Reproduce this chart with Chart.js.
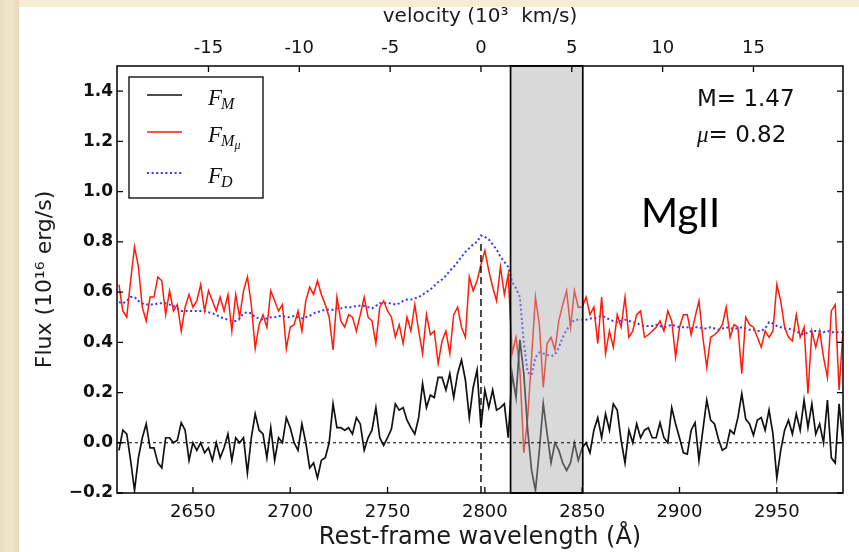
<!DOCTYPE html>
<html>
<head>
<meta charset="utf-8">
<script src="https://cdn.jsdelivr.net/npm/chart.js@4.4.1/dist/chart.umd.min.js"></script>
<style>
  html, body { margin: 0; padding: 0; background: #fff; }
  #wrap { width: 859px; height: 552px; position: relative; }
  canvas { display: block; }
</style>
</head>
<body>
<div id="wrap"><canvas id="spec" width="859" height="552"></canvas></div>
<script>
// Rest-frame wavelength grid (Angstrom)
const wavelength = [
  2612, 2614, 2616, 2618, 2620, 2622, 2624, 2626, 2628, 2630,
  2632, 2634, 2636, 2638, 2640, 2642, 2644, 2646, 2648, 2650,
  2652, 2654, 2656, 2658, 2660, 2662, 2664, 2666, 2668, 2670,
  2672, 2674, 2676, 2678, 2680, 2682, 2684, 2686, 2688, 2690,
  2692, 2694, 2696, 2698, 2700, 2702, 2704, 2706, 2708, 2710,
  2712, 2714, 2716, 2718, 2720, 2722, 2724, 2726, 2728, 2730,
  2732, 2734, 2736, 2738, 2740, 2742, 2744, 2746, 2748, 2750,
  2752, 2754, 2756, 2758, 2760, 2762, 2764, 2766, 2768, 2770,
  2772, 2774, 2776, 2778, 2780, 2782, 2784, 2786, 2788, 2790,
  2792, 2794, 2796, 2798, 2800, 2802, 2804, 2806, 2808, 2810,
  2812, 2814, 2816, 2818, 2820, 2822, 2824, 2826, 2828, 2830,
  2832, 2834, 2836, 2838, 2840, 2842, 2844, 2846, 2848, 2850,
  2852, 2854, 2856, 2858, 2860, 2862, 2864, 2866, 2868, 2870,
  2872, 2874, 2876, 2878, 2880, 2882, 2884, 2886, 2888, 2890,
  2892, 2894, 2896, 2898, 2900, 2902, 2904, 2906, 2908, 2910,
  2912, 2914, 2916, 2918, 2920, 2922, 2924, 2926, 2928, 2930,
  2932, 2934, 2936, 2938, 2940, 2942, 2944, 2946, 2948, 2950,
  2952, 2954, 2956, 2958, 2960, 2962, 2964, 2966, 2968, 2970,
  2972, 2974, 2976, 2978, 2980, 2982, 2984
];

// F_M : microlensed residual flux
const fluxM = [
  -0.03, 0.05, 0.035, -0.07, -0.19, -0.06, 0.02, 0.075, -0.02, -0.02,
  -0.08, -0.10, 0.02, 0.02, 0.0, 0.01, 0.08, 0.05, -0.07, 0.0,
  -0.03, 0.0, -0.04, -0.02, -0.07, 0.0, -0.06, -0.02, 0.035, -0.07,
  0.02, 0.0, 0.02, -0.12, 0.02, 0.115, 0.05, 0.035, -0.06, 0.06,
  -0.07, 0.02, 0.0, 0.10, 0.06, 0.0, -0.03, 0.075, 0.0, -0.10,
  -0.08, -0.14, -0.07, -0.06, 0.0, 0.155, 0.06, 0.06, 0.05, 0.06,
  0.035, 0.10, 0.075, -0.03, 0.02, 0.05, 0.14, 0.02, -0.01, 0.02,
  0.055, 0.155, 0.13, 0.14, 0.09, 0.06, 0.035, 0.10, 0.235, 0.14,
  0.19, 0.18, 0.26, 0.26, 0.21, 0.275, 0.18, 0.275, 0.33, 0.25,
  0.10, 0.22, 0.29, 0.06, 0.21, 0.14, 0.21, 0.13, 0.14, 0.155,
  0.02, 0.275, 0.18, 0.41, 0.275, 0.05, -0.11, -0.19, -0.03, 0.155,
  0.035, -0.08, 0.0, -0.03, -0.08, -0.11, -0.08, 0.0, -0.07, -0.02,
  0.0, -0.04, 0.05, 0.10, 0.02, 0.115, 0.05, 0.155, 0.13, 0.01,
  -0.08, 0.05, 0.0, 0.075, 0.02, 0.05, 0.06, 0.02, 0.02, 0.08,
  0.02, 0.0, 0.14, 0.075, 0.02, -0.04, -0.045, 0.05, 0.08, -0.07,
  0.05, 0.17, 0.09, 0.075, 0.015, -0.03, -0.02, 0.05, 0.035, 0.10,
  0.195, 0.095, 0.075, 0.03, 0.09, 0.10, 0.05, 0.13, 0.035, -0.14,
  -0.03, 0.05, 0.09, 0.035, 0.115, 0.05, 0.17, 0.06, 0.155, 0.035,
  0.075, 0.0, 0.17, -0.06, -0.08, 0.155, 0.0
];

// F_Mmu : magnified flux
const fluxMmu = [
  0.63, 0.525, 0.50, 0.645, 0.78, 0.70, 0.54, 0.485, 0.58, 0.58,
  0.66, 0.645, 0.51, 0.605, 0.525, 0.55, 0.445, 0.54, 0.59, 0.54,
  0.565, 0.63, 0.525, 0.605, 0.565, 0.525, 0.58, 0.525, 0.59, 0.445,
  0.59, 0.50, 0.605, 0.66, 0.55, 0.375, 0.47, 0.51, 0.46, 0.605,
  0.565, 0.525, 0.55, 0.375, 0.46, 0.47, 0.525, 0.445, 0.565, 0.62,
  0.59, 0.645, 0.59, 0.55, 0.50, 0.37, 0.58, 0.485, 0.46, 0.51,
  0.50, 0.445, 0.51, 0.58, 0.50, 0.485, 0.395, 0.54, 0.565, 0.525,
  0.50, 0.42, 0.47, 0.395, 0.50, 0.445, 0.55, 0.445, 0.355, 0.51,
  0.43, 0.445, 0.315, 0.405, 0.445, 0.355, 0.51, 0.54, 0.46, 0.42,
  0.66, 0.605, 0.645, 0.71, 0.765, 0.685, 0.62, 0.565, 0.70, 0.59,
  0.67, 0.355, 0.42, 0.29, -0.04, 0.10, 0.34, 0.58, 0.47, 0.22,
  0.395, 0.42, 0.37, 0.485, 0.55, 0.605, 0.46, 0.605, 0.54, 0.54,
  0.58, 0.51, 0.54, 0.395, 0.58, 0.355, 0.445, 0.38, 0.51, 0.46,
  0.58, 0.42, 0.445, 0.51, 0.525, 0.42, 0.43, 0.445, 0.46, 0.485,
  0.445, 0.525, 0.485, 0.34, 0.46, 0.51, 0.51, 0.43, 0.50, 0.565,
  0.42, 0.30, 0.42, 0.43, 0.445, 0.47, 0.54, 0.42, 0.47, 0.46,
  0.275, 0.50, 0.47, 0.46, 0.42, 0.38, 0.445, 0.42, 0.445, 0.63,
  0.565, 0.46, 0.42, 0.405, 0.51, 0.42, 0.46, 0.195, 0.445, 0.38,
  0.445, 0.34, 0.26, 0.525, 0.55, 0.21, 0.445
];

// F_D : direct (unlensed) flux
const fluxD = [
  0.56, 0.555, 0.565, 0.58, 0.58, 0.565, 0.555, 0.55, 0.55, 0.55,
  0.555, 0.555, 0.555, 0.55, 0.545, 0.535, 0.525, 0.525, 0.525, 0.525,
  0.525, 0.525, 0.525, 0.52, 0.515, 0.51, 0.50, 0.495, 0.49, 0.485,
  0.485, 0.495, 0.515, 0.52, 0.515, 0.50, 0.495, 0.49, 0.495, 0.50,
  0.50, 0.505, 0.505, 0.50, 0.50, 0.505, 0.50, 0.495, 0.50, 0.505,
  0.515, 0.52, 0.525, 0.53, 0.53, 0.53, 0.535, 0.535, 0.54, 0.54,
  0.54, 0.545, 0.545, 0.545, 0.54, 0.535, 0.545, 0.555, 0.555, 0.555,
  0.555, 0.55, 0.555, 0.565, 0.57, 0.57, 0.575, 0.58, 0.59, 0.60,
  0.61, 0.625, 0.64, 0.65, 0.665, 0.685, 0.70, 0.72, 0.74, 0.76,
  0.775, 0.79, 0.80, 0.825, 0.82, 0.81, 0.79, 0.77, 0.74, 0.72,
  0.70, 0.64, 0.615, 0.58, 0.40, 0.28, 0.27, 0.34, 0.36, 0.355,
  0.35, 0.345, 0.35, 0.38, 0.42, 0.45, 0.47, 0.49, 0.49, 0.49,
  0.49, 0.495, 0.495, 0.50, 0.505, 0.50, 0.49, 0.485, 0.48, 0.485,
  0.49, 0.485, 0.48, 0.475, 0.47, 0.465, 0.465, 0.465, 0.47, 0.465,
  0.46, 0.465, 0.47, 0.465, 0.46, 0.46, 0.46, 0.455, 0.46, 0.46,
  0.455, 0.455, 0.46, 0.455, 0.45, 0.455, 0.46, 0.455, 0.455, 0.455,
  0.46, 0.455, 0.45, 0.45, 0.445, 0.445, 0.455, 0.48, 0.475, 0.465,
  0.46, 0.455, 0.455, 0.45, 0.445, 0.435, 0.43, 0.44, 0.445, 0.445,
  0.445, 0.44, 0.445, 0.44, 0.44, 0.44, 0.44
];

// Axis ranges and tick layout
const waveRange = [2611, 2984];
const fluxRange = [-0.2, 1.5];
const waveTickStep = 50;
const fluxTickStep = 0.2;
const velocityTickStep = 5;
const velocityLabelLimit = 15;
const lineCenter = 2798;          // Mg II rest wavelength, zero velocity
const lightSpeed = 299.792458;    // 10^3 km/s
const velocitySpan = [2813.2, 2850.3];  // shaded absorption window
const centerMarkerTop = 0.8;

// Annotations
const fitText = ['M= 1.47', '= 0.82'];
const lineName = 'MgII';
const legendNames = [['F', 'M', ''], ['F', 'M', '\u03bc'], ['F', 'D', '']];

const toVelocity = w => (w / lineCenter - 1) * lightSpeed;
const pts = arr => wavelength.map((w, i) => ({ x: w, y: arr[i] }));

const sansFont = "'DejaVu Sans', sans-serif";

const decor = {
  id: 'decor',
  beforeDraw(chart) {
    const ctx = chart.ctx;
    ctx.save();
    // parchment border
    const g = ctx.createLinearGradient(0, 0, 20, 0);
    g.addColorStop(0, '#eadcbd');
    g.addColorStop(0.5, '#f2e7cd');
    g.addColorStop(1, '#e6d8b8');
    ctx.fillStyle = g;
    ctx.fillRect(0, 0, chart.width, chart.height);
    ctx.fillStyle = '#f6ebd3';
    ctx.fillRect(19, 0, chart.width - 19, 7);
    ctx.fillStyle = '#ffffff';
    ctx.fillRect(19, 7, chart.width - 19, chart.height - 7);
    ctx.restore();
  },
  afterDatasetsDraw(chart) {
    const { ctx, chartArea: a, scales } = chart;
    const x = scales.x, y = scales.y, top = scales.vel;
    ctx.save();
    // shaded window over the spectra
    const s0 = x.getPixelForValue(velocitySpan[0]);
    const s1 = x.getPixelForValue(velocitySpan[1]);
    ctx.fillStyle = 'rgba(170,170,170,0.45)';
    ctx.fillRect(s0, a.top, s1 - s0, a.bottom - a.top);
    ctx.strokeStyle = '#000';
    ctx.lineWidth = 1.7;
    ctx.strokeRect(s0, a.top, s1 - s0, a.bottom - a.top);

    // zero flux reference
    ctx.beginPath();
    ctx.lineWidth = 1;
    ctx.setLineDash([3, 3]);
    const y0 = y.getPixelForValue(0);
    ctx.moveTo(a.left, y0);
    ctx.lineTo(a.right, y0);
    ctx.stroke();

    // line centre marker
    ctx.beginPath();
    ctx.lineWidth = 1.4;
    ctx.setLineDash([7, 4]);
    const xc = x.getPixelForValue(lineCenter);
    ctx.moveTo(xc, a.bottom);
    ctx.lineTo(xc, y.getPixelForValue(centerMarkerTop));
    ctx.stroke();
    ctx.setLineDash([]);

    // frame
    ctx.lineWidth = 1.5;
    ctx.strokeRect(a.left, a.top, a.right - a.left, a.bottom - a.top);

    // inward ticks
    const tl = 6;
    ctx.lineWidth = 1.3;
    ctx.beginPath();
    x.ticks.forEach(t => {
      const px = x.getPixelForValue(t.value);
      ctx.moveTo(px, a.bottom); ctx.lineTo(px, a.bottom - tl);
    });
    top.ticks.forEach(t => {
      const px = top.getPixelForValue(t.value);
      ctx.moveTo(px, a.top); ctx.lineTo(px, a.top + tl);
    });
    y.ticks.forEach(t => {
      const py = y.getPixelForValue(t.value);
      ctx.moveTo(a.left, py); ctx.lineTo(a.left + tl, py);
      ctx.moveTo(a.right, py); ctx.lineTo(a.right - tl, py);
    });
    ctx.stroke();
    ctx.restore();
  },
  afterDraw(chart) {
    const ctx = chart.ctx;
    const ds = chart.data.datasets;
    ctx.save();
    // legend box
    const bx = 129, by = 77, bw = 134, bh = 121;
    ctx.fillStyle = '#fff';
    ctx.fillRect(bx, by, bw, bh);
    ctx.strokeStyle = '#000';
    ctx.lineWidth = 1.3;
    ctx.strokeRect(bx, by, bw, bh);
    const rows = [95, 132, 173];
    ds.forEach((d, i) => {
      ctx.beginPath();
      ctx.strokeStyle = d.borderColor;
      ctx.lineWidth = d.borderWidth;
      ctx.setLineDash(d.borderDash || []);
      ctx.moveTo(147, rows[i]);
      ctx.lineTo(182, rows[i]);
      ctx.stroke();
      ctx.setLineDash([]);
      const [main, sub, sub2] = legendNames[i];
      ctx.fillStyle = '#111';
      ctx.textBaseline = 'alphabetic';
      ctx.textAlign = 'left';
      ctx.font = "italic 23px 'Liberation Serif', serif";
      const base = rows[i] + 10;
      ctx.fillText(main, 208, base);
      const fw = ctx.measureText(main).width;
      ctx.font = "italic 16px 'Liberation Serif', serif";
      ctx.fillText(sub, 208 + fw - 1, base + 4);
      const sw = ctx.measureText(sub).width;
      if (sub2) {
        ctx.font = "italic 12px 'Liberation Serif', serif";
        ctx.fillText(sub2, 208 + fw + sw - 1, base + 7);
      }
    });

    // fit parameters
    ctx.fillStyle = '#111';
    ctx.font = '23px ' + sansFont;
    ctx.textAlign = 'left';
    ctx.fillText(fitText[0], 697, 106);
    ctx.font = "italic 23px 'Liberation Serif', serif";
    ctx.fillText('\u03bc', 697, 142);
    const mw = ctx.measureText('\u03bc').width;
    ctx.font = '23px ' + sansFont;
    ctx.fillText(fitText[1], 697 + mw, 142);

    // line identification
    ctx.fillStyle = '#000';
    ctx.font = "40px Lato, 'Open Sans', sans-serif";
    ctx.fillText(lineName, 641, 227);
    ctx.restore();
  }
};

new Chart(document.getElementById('spec'), {
  type: 'line',
  data: {
    datasets: [
      { label: 'F_M', data: pts(fluxM), borderColor: '#111111', borderWidth: 1.7 },
      { label: 'F_Mmu', data: pts(fluxMmu), borderColor: '#ff1a0a', borderWidth: 1.5 },
      { label: 'F_D', data: pts(fluxD), borderColor: '#3535ff', borderWidth: 2, borderDash: [2, 2.6] }
    ]
  },
  options: {
    responsive: false,
    animation: false,
    devicePixelRatio: 1,
    layout: { padding: { left: 0, right: 16, top: 0, bottom: 0 } },
    elements: { point: { radius: 0 }, line: { tension: 0, fill: false } },
    plugins: { legend: { display: false }, tooltip: { enabled: false } },
    scales: {
      x: {
        type: 'linear', position: 'bottom',
        min: waveRange[0], max: waveRange[1],
        grid: { display: false, drawTicks: false },
        border: { display: false },
        ticks: {
          stepSize: waveTickStep, includeBounds: false, autoSkip: false, maxRotation: 0,
          padding: 9, color: '#111', font: { family: sansFont, size: 18 },
          callback: v => String(v)
        },
        title: {
          display: true, text: 'Rest-frame wavelength (\u00c5)', color: '#1a1a1a',
          font: { family: sansFont, size: 24 }, padding: { top: 0, bottom: 0 }
        },
        afterFit(s) { s.height = 59; }
      },
      vel: {
        type: 'linear', position: 'top',
        min: toVelocity(waveRange[0]), max: toVelocity(waveRange[1]),
        grid: { display: false, drawTicks: false },
        border: { display: false },
        afterBuildTicks(s) {
          s.ticks = s.ticks.filter(t => Math.abs(t.value) <= velocityLabelLimit + 1e-9);
        },
        ticks: {
          stepSize: velocityTickStep, includeBounds: false, autoSkip: false, maxRotation: 0,
          padding: 7, color: '#111', font: { family: sansFont, size: 18 },
          callback: v => String(v)
        },
        title: {
          display: true, text: 'velocity (10\u00b3  km/s)', color: '#1a1a1a',
          font: { family: sansFont, size: 20 }, padding: { top: 5, bottom: 0 }
        },
        afterFit(s) { s.height = 66; }
      },
      y: {
        type: 'linear', position: 'left',
        min: fluxRange[0], max: fluxRange[1],
        grid: { display: false, drawTicks: false },
        border: { display: false },
        ticks: {
          stepSize: fluxTickStep, includeBounds: false, autoSkip: false,
          padding: 4, color: '#111', font: { family: sansFont, size: 17, weight: 'bold' },
          callback: v => (v < 0 ? '\u2212' + Math.abs(v).toFixed(1) : v.toFixed(1))
        },
        title: {
          display: true, text: 'Flux (10\u00b9\u2076 erg/s)', color: '#1a1a1a',
          font: { family: sansFont, size: 22 }, padding: { top: 32, bottom: 0 }
        },
        afterFit(s) { s.width = 117; }
      }
    }
  },
  plugins: [decor]
});
</script>
</body>
</html>
